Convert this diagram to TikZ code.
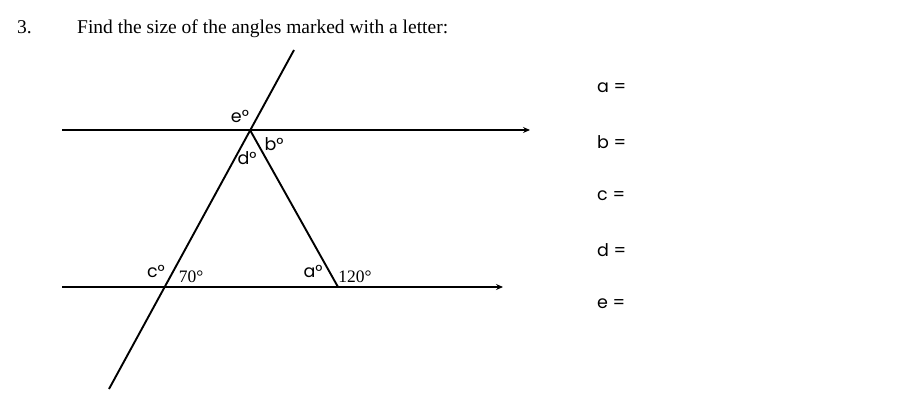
\documentclass[tikz,border=0pt]{standalone}
\usepackage{fontspec}
\setmainfont{Liberation Serif}
\newfontfamily\handfont{Poppins}
\usetikzlibrary{arrows.meta}
\begin{document}
\begin{tikzpicture}[x=1pt,y=-1pt,
  geo/.style={line width=1.9pt},
  arr/.style={geo,-{Stealth[length=7pt,width=6pt,inset=2.5pt]}},
  hand/.style={font=\handfont\fontsize{17.5}{19}\selectfont, inner sep=0pt},
  deg/.style={font=\fontsize{17.5}{19}\selectfont, inner sep=0pt},
  head/.style={font=\fontsize{19.5}{22}\selectfont, inner sep=0pt, anchor=base west},
  ans/.style={font=\handfont\fontsize{17.5}{19}\selectfont, inner sep=0pt, anchor=west}]
\useasboundingbox (0,0) rectangle (907,406);
% header
\node[head] (num) at (17,34) {3.};
\node[head] (title) at (77,34) {Find the size of the angles marked with a letter:};
% geometry
\coordinate (T1) at (62,130);
\coordinate (T2) at (530,130);
\coordinate (B1) at (62,287);
\coordinate (B2) at (503,287);
\coordinate (Ltop) at (294,50);
\coordinate (Lbot) at (109,389);
\coordinate (P) at (250,130);
\coordinate (Q) at (165,287);
\coordinate (R) at (338,287);
\draw[arr] (T1) -- (T2);
\draw[arr] (B1) -- (B2);
\draw[geo] (Ltop) -- (Lbot);
\draw[geo] (P) -- (R);
% angle labels
\node[hand] (e) at (240,116) {e°};
\node[hand] (b) at (274,144) {b°};
\node[hand] (d) at (247,158) {d°};
\node[hand] (c) at (156,271) {c°};
\node[hand] (a) at (313,271) {a°};
\node[deg] (s70) at (191,277) {70°};
\node[deg] (s120) at (355,277) {120°};
% answers
\node[ans] (ra) at (597,88) {a =};
\node[ans] (rb) at (597,142) {b =};
\node[ans] (rc) at (597,196) {c =};
\node[ans] (rd) at (597,250) {d =};
\node[ans] (re) at (597,304) {e =};
\end{tikzpicture}
\end{document}
